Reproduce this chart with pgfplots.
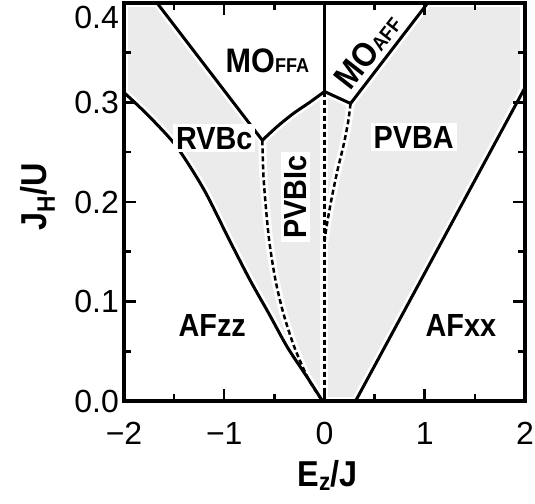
\documentclass[border=0pt]{standalone}
\usepackage{fontspec}
\setmainfont{Liberation Sans}
\newfontfamily\lab{Liberation Sans}[FakeStretch=0.9]
\usepackage{pgfplots}
\usepackage{pgfplotstable}
\pgfplotsset{compat=1.18}
\definecolor{phase}{HTML}{EBEBEB}

% phase boundaries
\pgfplotstableread{
x y
-2.00 0.310
-1.85 0.296
-1.70 0.281
-1.47 0.255
-1.20 0.212
-0.95 0.162
-0.74 0.121
-0.55 0.087
-0.37 0.054
-0.18 0.025
-0.02 0.000
}\afzz
\pgfplotstableread{
x y
-0.62 0.262
-0.61 0.228
-0.585 0.195
-0.55 0.160
-0.49 0.122
-0.41 0.088
-0.30 0.054
-0.16 0.022
-0.02 0.000
}\dleft
\pgfplotstableread{
x y
-0.62 0.262
-0.47 0.276
-0.31 0.289
-0.15 0.300
0.00 0.311
}\moffacurve
\pgfplotstableread{
x y
0.26 0.299
0.235 0.280
0.19 0.257
0.13 0.232
0.07 0.203
0.02 0.175
0.00 0.160
}\dright

\tikzset{
  halo/.style={white, line width=8pt},
  bound/.style={black, line width=3pt},
  dbound/.style={black, line width=2.5pt, dash pattern=on 5pt off 3pt},
  lbl/.style={font={\lab\bfseries\fontsize{32}{36}\selectfont}, fill=white, inner sep=3pt},
}

\begin{document}
\begin{tikzpicture}
\begin{axis}[
  scale only axis, width=401pt, height=398pt,
  xmin=-2, xmax=2, ymin=0, ymax=0.4,
  axis on top,
  axis line style={line width=4pt},
  axis background/.style={fill=phase},
  xtick={-2,-1,0,1,2}, xticklabels={−2,−1,0,1,2},
  ytick={0,0.1,0.2,0.3},
  yticklabels={0.0,0.1,0.2,0.3},
  extra y ticks={0.4}, extra y tick labels={0.4},
  extra y tick style={yticklabel style={yshift=-14pt}},
  minor xtick={-1.5,-0.5,0.5,1.5},
  minor ytick={0.05,0.15,0.25,0.35},
  major tick length=12pt, minor tick length=7pt,
  tick style={black, line width=2.5pt},
  tick label style={font=\fontsize{32}{36}\selectfont, inner sep=0pt},
  xticklabel style={yshift=-21pt},
  yticklabel style={xshift=-5pt},
  xlabel={E\textsubscript{z}/J},
  ylabel={J\textsubscript{H}/U},
  label style={font={\lab\bfseries\fontsize{36}{40}\selectfont}, inner sep=0pt},
  xlabel style={at={(axis description cs:0.508,-0.148)}, anchor=north},
  ylabel style={at={(axis description cs:-0.172,0.512)}, anchor=south, rotate=0},
]
% white (ordered) regions
\addplot[fill=white, draw=none] table {\afzz} \closedcycle;
\addplot[fill=white, draw=none] coordinates {(0.31,0) (2,0.315) (2,0)} -- cycle;
\addplot[fill=white, draw=none] coordinates {(-1.67,0.4) (-0.62,0.262) (-0.47,0.276) (-0.31,0.289) (-0.15,0.300) (0,0.311) (0,0.4)} -- cycle;
\addplot[fill=white, draw=none] coordinates {(0,0.4) (0,0.311) (0.26,0.299) (1.03,0.4)} -- cycle;
\draw[white, line width=9pt] (rel axis cs:0,0) rectangle (rel axis cs:1,1);

% white halos under the lines
\addplot[halo, smooth] table {\afzz};
\addplot[halo, smooth] table {\dleft};
\addplot[halo, smooth] table {\moffacurve};
\addplot[halo, smooth] table {\dright};
\addplot[halo] coordinates {(-1.67,0.4) (-0.62,0.262)};
\addplot[halo] coordinates {(0,0.4) (0,0)};
\addplot[halo] coordinates {(0,0.311) (0.26,0.299) (1.03,0.4)};
\addplot[halo] coordinates {(0.31,0) (2,0.315)};

% boundaries
\addplot[bound, smooth] table {\afzz};
\addplot[bound, smooth] table {\moffacurve};
\addplot[bound] coordinates {(-1.67,0.4) (-0.62,0.262)};
\addplot[bound] coordinates {(0,0.311) (0,0.4)};
\addplot[bound] coordinates {(0,0.311) (0.26,0.299) (1.03,0.4)};
\addplot[bound] coordinates {(0.31,0) (2,0.315)};
\addplot[dbound, smooth] table {\dleft};
\addplot[dbound, smooth] table {\dright};
\addplot[dbound] coordinates {(0,0.311) (0,0)};

% phase names
\node[lbl, fill=none] at (axis cs:-0.57,0.342) {\fontsize{34}{38}\selectfont MO{\fontsize{20}{22}\selectfont FFA}};
\node[lbl, fill=none, rotate=52] at (axis cs:0.43,0.352) {\fontsize{34}{38}\selectfont MO{\fontsize{20}{22}\selectfont AFF}};
\node[lbl] at (axis cs:-1.10,0.264) {RVBc};
\node[lbl, rotate=90] at (axis cs:-0.29,0.205) {PVBIc};
\node[lbl] at (axis cs:0.89,0.265) {PVBA};
\node[lbl, fill=none] at (axis cs:-1.12,0.076) {AFzz};
\node[lbl, fill=none] at (axis cs:1.36,0.076) {AFxx};
\end{axis}
\pgfresetboundingbox
\path ([shift={(-124pt,-102pt)}]current axis.south west) rectangle ([shift={(10pt,3pt)}]current axis.north east);
\end{tikzpicture}
\end{document}
